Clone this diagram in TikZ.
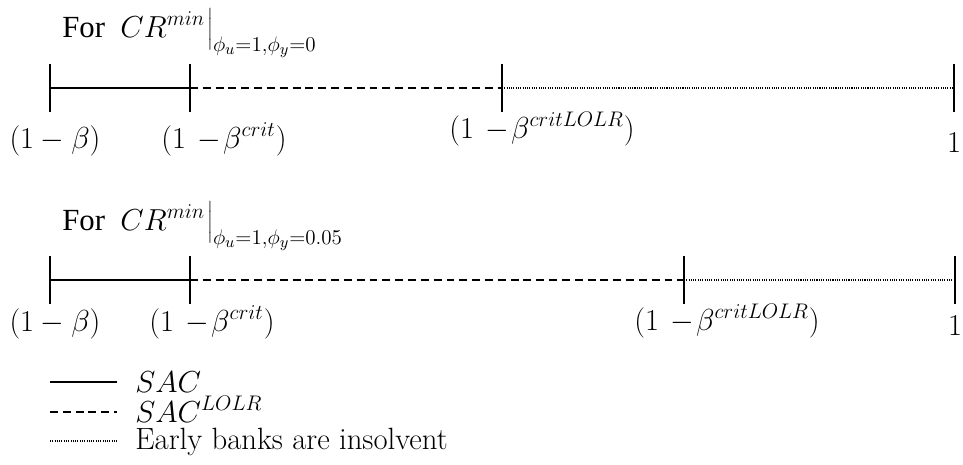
\documentclass[tikz,border=0pt]{standalone}
\usepackage{fontspec}
\newfontfamily\forfont{Liberation Serif}
\usetikzlibrary{calc, positioning}

\begin{document}
\begin{tikzpicture}[
        x=0.02cm, y=-0.02cm,
        font=\fontsize{17.5}{20}\selectfont,
        tick/.style={line width=1.2pt},
        solidseg/.style={line width=1.1pt},
        dashseg/.style={line width=1.1pt, dash pattern=on 4.5pt off 2.8pt},
        dotseg/.style={line width=0.9pt, dash pattern=on 0.6pt off 0.7pt},
        lbl/.style={inner sep=0pt, anchor=base},
        keytext/.style={anchor=base west, inner sep=0pt}
    ]
    \useasboundingbox (0,0) rectangle (963,464);

    % --- FIRST LINE ---
    \node[anchor=base west, inner sep=0pt] (title1) at (62,37)
        {\forfont For\ \ $CR^{min}\!\left.\rule[-5pt]{0pt}{20pt}\right|_{\phi_u=1,\phi_y=0}$};
    \coordinate (a0) at (50,88);
    \coordinate (a1) at (190,88);
    \coordinate (a2) at (502,88);
    \coordinate (a3) at (954,88);
    \foreach \p in {a0,a1,a2,a3}
        \draw[tick] ($(\p)+(0,-24)$) -- ($(\p)+(0,24)$);
    \draw[solidseg] (a0) -- (a1);
    \draw[dashseg] (a1) -- (a2);
    \draw[dotseg] (a2) -- (a3);
    \node[lbl] (la0) at (55,148) {$(1-\beta)$};
    \node[lbl] (la1) at (224,148) {$(1\, -\!\beta^{crit})$};
    \node[lbl] (la2) at (542,138) {$(1\, -\!\beta^{critLOLR})$};
    \node[lbl] (la3) at (954,152) {$1$};

    % --- SECOND LINE ---
    \node[anchor=base west, inner sep=0pt] (title2) at (62,230)
        {\forfont For\ \ $CR^{min}\!\left.\rule[-5pt]{0pt}{20pt}\right|_{\phi_u=1,\phi_y=0.05}$};
    \coordinate (b0) at (50,280);
    \coordinate (b1) at (190,280);
    \coordinate (b2) at (684,280);
    \coordinate (b3) at (955,280);
    \foreach \p in {b0,b1,b2,b3}
        \draw[tick] ($(\p)+(0,-24)$) -- ($(\p)+(0,24)$);
    \draw[solidseg] (b0) -- (b1);
    \draw[dashseg] (b1) -- (b2);
    \draw[dotseg] (b2) -- (b3);
    \node[lbl] (lb0) at (55,331) {$(1-\beta)$};
    \node[lbl] (lb1) at (212,331) {$(1\, -\!\beta^{crit})$};
    \node[lbl] (lb2) at (727,330) {$(1\, -\!\beta^{critLOLR})$};
    \node[lbl] (lb3) at (955,335) {$1$};

    % --- LEGEND ---
    \coordinate (s0) at (50,382);
    \coordinate (s1) at (117,382);
    \coordinate (d0) at (50,412);
    \coordinate (d1) at (117,412);
    \coordinate (e0) at (50,441);
    \coordinate (e1) at (117,441);
    \draw[solidseg] (s0) -- (s1);
    \draw[dashseg] (d0) -- (d1);
    \draw[dotseg] (e0) -- (e1);
    \node[keytext] (ks) at ($(s1)+(18,10)$) {$SAC$};
    \node[keytext] (kd) at ($(d1)+(18,10)$) {$SAC^{LOLR}$};
    \node[keytext] (ke) at ($(e1)+(18,8)$) {Early banks are insolvent};

\end{tikzpicture}
\end{document}
